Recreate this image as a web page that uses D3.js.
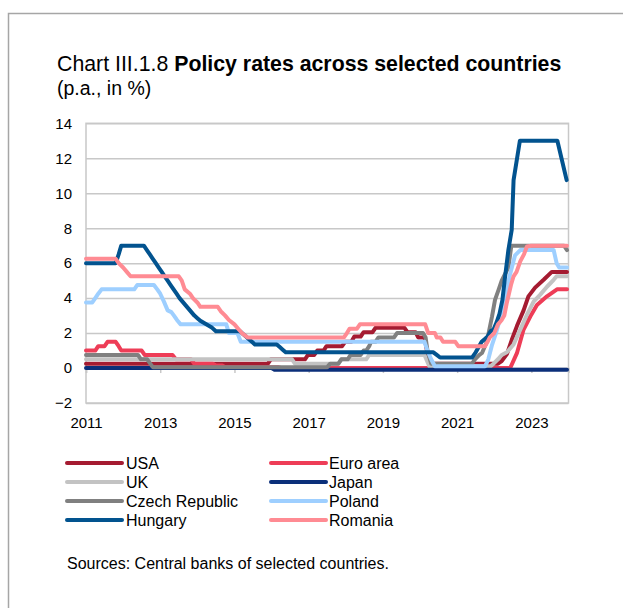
<!DOCTYPE html>
<html>
<head>
<meta charset="utf-8">
<script src="https://cdn.jsdelivr.net/npm/d3@7"></script>
<style>
  html, body { margin: 0; padding: 0; background: #fff; }
  svg { display: block; font-family: "Liberation Sans", Arial, sans-serif; }
</style>
</head>
<body>
<svg id="chart" width="623" height="608"></svg>
<script>
// ---- data (vertices: [year fraction, rate %]) ----
const yearTicks = [2011, 2013, 2015, 2017, 2019, 2021, 2023];
const valueTicks = [-2, 0, 2, 4, 6, 8, 10, 12, 14];

const usa = [[2011.0,0.25],[2015.9,0.25],[2015.98,0.5],[2016.9,0.5],[2016.98,0.75],[2017.15,0.75],[2017.23,1.0],[2017.4,1.0],[2017.48,1.25],[2017.9,1.25],[2017.98,1.5],[2018.15,1.5],[2018.23,1.8],[2018.4,1.8],[2018.48,2.05],[2018.72,2.05],[2018.8,2.3],[2019.58,2.3],[2019.66,2.05],[2019.88,2.05],[2019.95,1.75],[2020.12,1.75],[2020.25,0.25],[2022.1,0.25],[2022.2,0.4],[2022.34,0.8],[2022.47,1.6],[2022.61,2.4],[2022.79,3.3],[2022.92,4.1],[2023.1,4.6],[2023.33,5.05],[2023.55,5.5],[2023.96,5.5]];
const euroArea = [[2011.0,1.0],[2011.25,1.0],[2011.33,1.25],[2011.5,1.25],[2011.58,1.5],[2011.8,1.5],[2011.88,1.25],[2011.95,1.0],[2012.5,1.0],[2012.58,0.75],[2013.33,0.75],[2013.42,0.5],[2013.83,0.5],[2013.92,0.25],[2014.42,0.25],[2014.5,0.15],[2014.67,0.15],[2014.75,0.05],[2016.17,0.05],[2016.25,0.0],[2022.43,0.0],[2022.61,0.85],[2022.79,2.2],[2022.97,2.95],[2023.15,3.6],[2023.42,4.1],[2023.69,4.5],[2023.96,4.5]];
const uk = [[2011.0,0.5],[2016.55,0.5],[2016.63,0.25],[2017.8,0.25],[2017.88,0.5],[2018.55,0.5],[2018.63,0.75],[2020.12,0.75],[2020.25,0.1],[2021.9,0.1],[2021.98,0.25],[2022.1,0.5],[2022.2,0.75],[2022.34,0.9],[2022.52,1.35],[2022.7,2.2],[2022.88,3.05],[2023.06,3.8],[2023.24,4.2],[2023.42,4.65],[2023.6,5.05],[2023.68,5.25],[2023.96,5.25]];
const japan = [[2011.0,0.0],[2016.0,0.0],[2016.08,-0.1],[2023.96,-0.1]];
const czech = [[2011.0,0.75],[2012.4,0.75],[2012.48,0.5],[2012.65,0.5],[2012.73,0.25],[2012.8,0.05],[2017.5,0.05],[2017.58,0.25],[2017.8,0.25],[2017.88,0.5],[2018.05,0.5],[2018.13,0.75],[2018.4,0.75],[2018.48,1.0],[2018.55,1.0],[2018.63,1.25],[2018.68,1.5],[2018.8,1.5],[2018.88,1.75],[2019.3,1.75],[2019.38,2.0],[2020.08,2.0],[2020.15,1.75],[2020.2,1.0],[2020.3,0.25],[2021.4,0.25],[2021.48,0.5],[2021.6,0.75],[2021.67,0.86],[2021.8,1.5],[2021.94,2.95],[2022.02,3.9],[2022.12,4.5],[2022.2,5.0],[2022.38,5.75],[2022.46,7.0],[2023.88,7.0],[2023.96,6.75]];
const poland = [[2011.0,3.75],[2011.17,3.75],[2011.25,4.0],[2011.33,4.25],[2011.42,4.5],[2012.3,4.5],[2012.38,4.75],[2012.83,4.75],[2012.92,4.5],[2013.0,4.25],[2013.1,3.8],[2013.2,3.3],[2013.3,3.2],[2013.37,3.0],[2013.45,2.75],[2013.55,2.5],[2014.78,2.5],[2014.85,2.0],[2015.08,2.0],[2015.17,1.5],[2020.12,1.5],[2020.2,1.0],[2020.3,0.5],[2020.4,0.1],[2021.75,0.1],[2021.84,0.5],[2021.94,1.33],[2022.03,1.9],[2022.11,2.47],[2022.2,3.3],[2022.29,4.1],[2022.43,5.4],[2022.56,6.45],[2022.7,6.75],[2023.6,6.75],[2023.68,6.0],[2023.75,5.75],[2023.96,5.75]];
const hungary = [[2011.0,6.0],[2011.8,6.0],[2011.88,6.5],[2011.95,7.0],[2012.56,7.0],[2012.64,6.75],[2012.72,6.5],[2012.8,6.25],[2012.88,6.0],[2012.96,5.75],[2013.04,5.5],[2013.12,5.25],[2013.2,5.0],[2013.28,4.75],[2013.36,4.5],[2013.44,4.25],[2013.52,4.0],[2013.6,3.8],[2013.68,3.6],[2013.76,3.4],[2013.84,3.2],[2013.92,3.0],[2014.0,2.85],[2014.08,2.7],[2014.16,2.6],[2014.24,2.5],[2014.32,2.4],[2014.4,2.3],[2014.5,2.1],[2015.15,2.1],[2015.23,1.95],[2015.31,1.8],[2015.39,1.65],[2015.47,1.5],[2015.55,1.35],[2016.14,1.35],[2016.22,1.2],[2016.3,1.05],[2016.38,0.9],[2020.36,0.9],[2020.45,0.75],[2020.54,0.6],[2021.4,0.6],[2021.5,0.9],[2021.58,1.2],[2021.66,1.5],[2021.74,1.65],[2021.82,1.8],[2021.9,2.1],[2021.98,2.2],[2022.06,2.6],[2022.14,3.1],[2022.22,3.9],[2022.29,5.2],[2022.38,6.75],[2022.47,7.9],[2022.52,10.75],[2022.69,13.0],[2023.7,13.0],[2023.95,10.75]];
const romania = [[2011.0,6.25],[2011.8,6.25],[2011.88,6.0],[2012.0,5.75],[2012.1,5.5],[2012.2,5.25],[2013.5,5.25],[2013.58,5.0],[2013.66,4.5],[2013.8,4.25],[2013.88,4.0],[2014.0,3.75],[2014.08,3.5],[2014.55,3.5],[2014.63,3.25],[2014.75,3.0],[2014.85,2.75],[2015.0,2.5],[2015.1,2.25],[2015.2,2.0],[2015.35,1.75],[2017.95,1.75],[2018.03,2.0],[2018.1,2.25],[2018.3,2.25],[2018.38,2.5],[2020.14,2.5],[2020.22,2.0],[2020.4,2.0],[2020.45,1.75],[2020.55,1.75],[2020.62,1.5],[2020.95,1.5],[2021.03,1.25],[2021.75,1.25],[2021.82,1.5],[2021.88,1.75],[2022.0,2.0],[2022.1,2.5],[2022.2,2.75],[2022.27,3.0],[2022.34,3.75],[2022.45,4.75],[2022.52,5.25],[2022.6,5.5],[2022.7,6.1],[2022.8,6.5],[2022.88,6.95],[2023.0,7.0],[2023.96,7.0]];

const seriesNames = ["USA", "Euro area", "UK", "Japan", "Czech Republic", "Poland", "Hungary", "Romania"];
const seriesData = [usa, euroArea, uk, japan, czech, poland, hungary, romania];
const seriesColors = ["#a51b31", "#ee3d57", "#c3c3c3", "#0b2f7a", "#808080", "#9ecfff", "#02538f", "#ff8b93"];

// ---- layout ----
const svg = d3.select("#chart");
const pL = 86, pR = 568.5, pT = 123.3, pB = 403;
const x = d3.scaleLinear().domain([2011, 2024]).range([pL, pR]);
const y = d3.scaleLinear().domain([-2, 14]).range([pB, pT]);

// outer frame
svg.append("path").attr("d", "M8.5,608 L8.5,13.5 L623,13.5")
  .attr("fill", "none").attr("stroke", "#a6a6a6").attr("stroke-width", 1.5);

// title
const title = svg.append("text").attr("x", 57).attr("y", 71)
  .attr("font-size", 21.3).attr("fill", "#000");
title.append("tspan").text("Chart III.1.8 ");
title.append("tspan").attr("font-weight", "bold").text("Policy rates across selected countries");
svg.append("text").attr("x", 57).attr("y", 95).attr("font-size", 19.5).text("(p.a., in %)");

// gridlines
const grid = svg.append("g").attr("transform", `translate(${pL},0)`)
  .call(d3.axisLeft(y).tickValues(valueTicks).tickSize(-(pR - pL)).tickFormat(""));
grid.select(".domain").remove();
grid.selectAll("line").attr("stroke", "#c8c8c8").attr("stroke-width", 1.5);

// plot border
svg.append("rect").attr("x", pL).attr("y", pT).attr("width", pR - pL).attr("height", pB - pT)
  .attr("fill", "none").attr("stroke", "#c8c8c8").attr("stroke-width", 1.5);

// y labels
const yAxis = svg.append("g").attr("transform", `translate(${pL},0)`)
  .call(d3.axisLeft(y).tickValues(valueTicks).tickSize(0).tickPadding(14).tickFormat(d3.format("d")));
yAxis.select(".domain").remove();
yAxis.selectAll("text").attr("font-size", 15).attr("fill", "#000")
  .attr("font-family", "Liberation Sans, Arial, sans-serif");

// x axis line at zero with ticks
const xTicks = svg.append("g").attr("transform", `translate(0,${y(0)})`)
  .call(d3.axisBottom(x).tickValues(yearTicks).tickSize(5).tickFormat(""));
xTicks.select(".domain").attr("stroke", "#c8c8c8").attr("stroke-width", 1.5);
xTicks.selectAll("line").attr("stroke", "#c8c8c8").attr("stroke-width", 1.5);

// x labels at bottom
const xLab = svg.append("g").attr("transform", `translate(0,${pB})`)
  .call(d3.axisBottom(x).tickValues(yearTicks).tickSize(0).tickPadding(14).tickFormat(d3.format("d")));
xLab.select(".domain").remove();
xLab.selectAll("text").attr("font-size", 15).attr("fill", "#000")
  .attr("font-family", "Liberation Sans, Arial, sans-serif");

// lines
const line = d3.line().x(d => x(d[0])).y(d => y(d[1]));
svg.append("g").selectAll("path").data(seriesData).join("path")
  .attr("d", line)
  .attr("fill", "none")
  .attr("stroke", (d, i) => seriesColors[i])
  .attr("stroke-width", 4)
  .attr("stroke-linejoin", "round")
  .attr("stroke-linecap", "round");

// legend
const legendCols = [[67, 122, 126], [271, 326, 329]];
const legendRows = [463, 482, 501, 520];
const lg = svg.append("g");
seriesNames.forEach((name, k) => {
  const col = legendCols[k % 2], ry = legendRows[Math.floor(k / 2)];
  lg.append("line").attr("x1", col[0]).attr("x2", col[1]).attr("y1", ry).attr("y2", ry)
    .attr("stroke", seriesColors[k]).attr("stroke-width", 4).attr("stroke-linecap", "round");
  lg.append("text").attr("x", col[2]).attr("y", ry + 5.5).attr("font-size", 16).text(name);
});

// source
svg.append("text").attr("x", 67).attr("y", 569).attr("font-size", 16)
  .text("Sources: Central banks of selected countries.");
</script>
</body>
</html>
